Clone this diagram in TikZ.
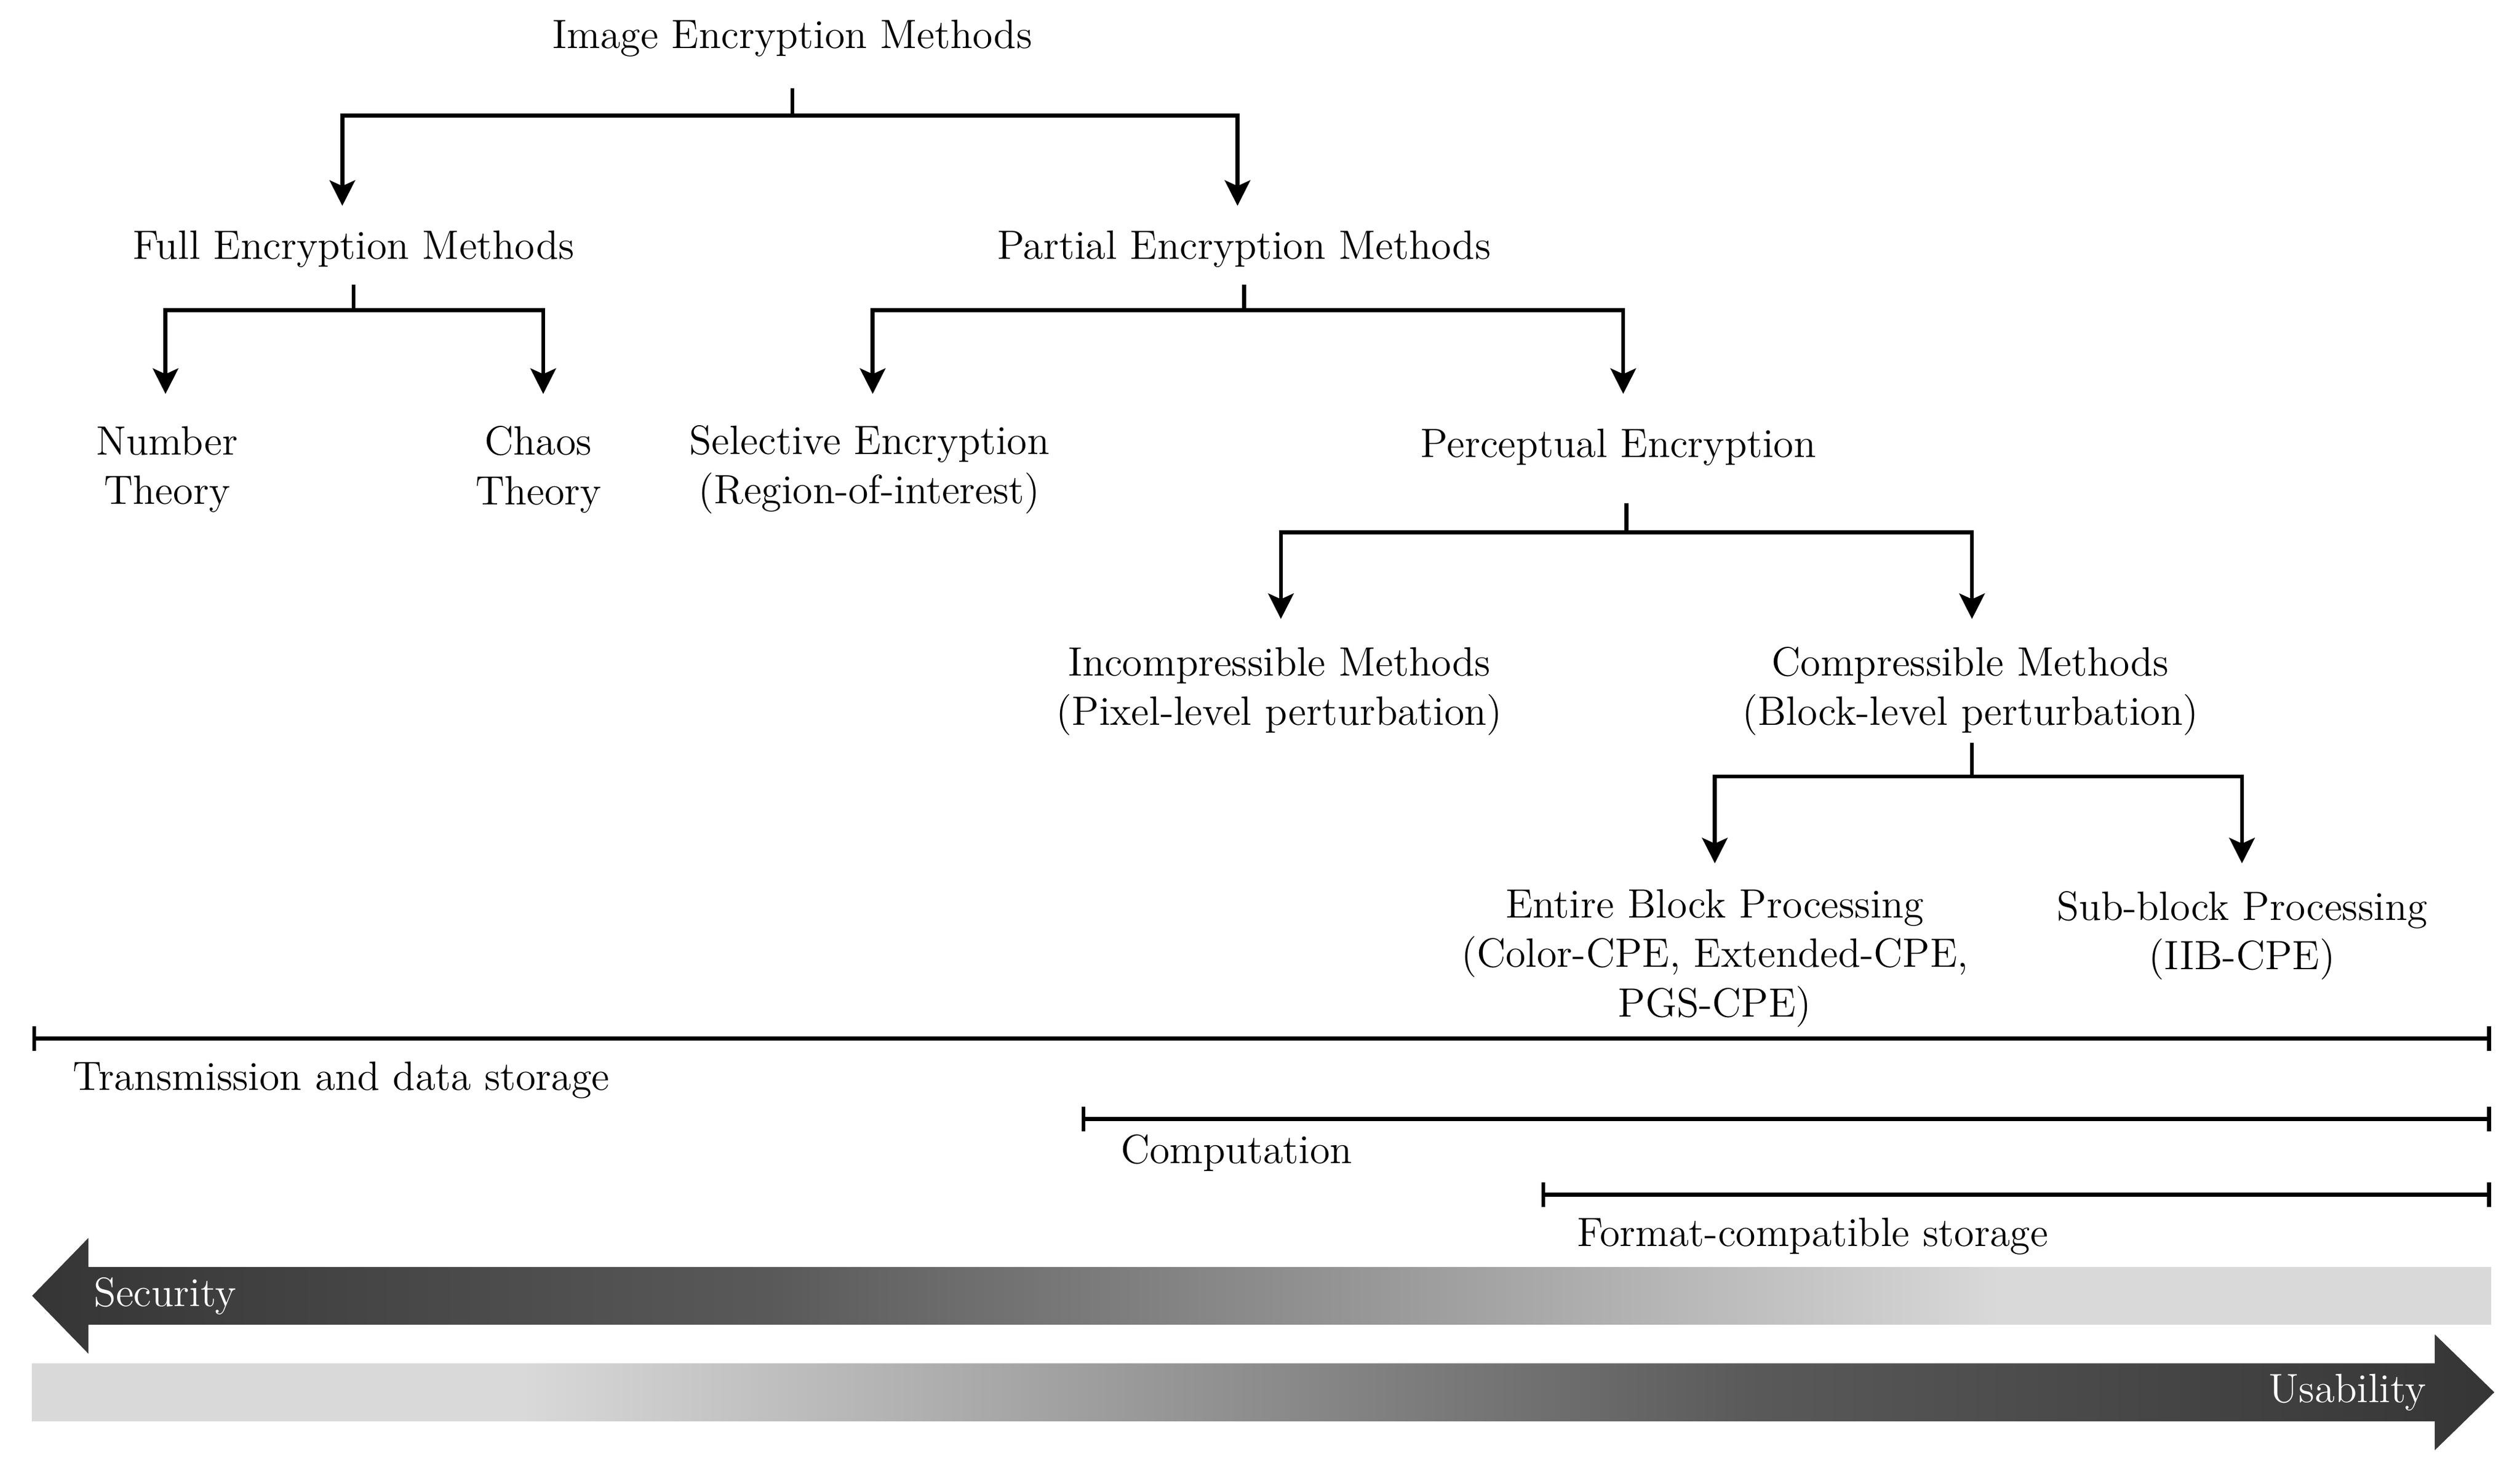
\documentclass[tikz,border=0pt]{standalone}
\usetikzlibrary{arrows.meta}
\definecolor{lg}{gray}{0.85}
\pgfdeclarehorizontalshading{secsh}{100bp}{color(0bp)=(black); color(3bp)=(black); color(40bp)=(gray!70!black); color(65bp)=(lg); color(100bp)=(lg)}
\pgfdeclarehorizontalshading{usesh}{100bp}{color(0bp)=(lg); color(35bp)=(lg); color(60bp)=(gray!70!black); color(97bp)=(black); color(100bp)=(black)}
\begin{document}
\begin{tikzpicture}[x=0.02cm,y=-0.02cm,
  lbl/.style={align=center,inner sep=0pt,font=\fontsize{14.5}{17.5}\selectfont},
  ln/.style={line width=1.4pt},
  arr/.style={ln,-{Stealth[length=9pt,width=9pt,inset=2pt]}},
  tk/.style={ln,|-|}]
\useasboundingbox (0,0) rectangle (1568,914);
\node[lbl] (root) at (493,24) {Image Encryption Methods};
\node[lbl] (full) at (220,155) {Full Encryption Methods};
\node[lbl] (part) at (774,155) {Partial Encryption Methods};
\node[lbl] (num) at (104,292) {Number\\Theory};
\node[lbl] (chaos) at (335,292) {Chaos\\Theory};
\node[lbl] (sel) at (541,292) {Selective Encryption\\(Region-of-interest)};
\node[lbl] (perc) at (1007,278) {Perceptual Encryption};
\node[lbl] (inc) at (796,430) {Incompressible Methods\\(Pixel-level perturbation)};
\node[lbl] (comp) at (1226,430) {Compressible Methods\\(Block-level perturbation)};
\node[lbl] (ent) at (1067,596) {Entire Block Processing\\(Color-CPE, Extended-CPE,\\PGS-CPE)};
\node[lbl] (sub) at (1395,582) {Sub-block Processing\\(IIB-CPE)};
% junctions
\coordinate (j0) at (493,72);
\coordinate (j1) at (220,193);
\coordinate (j2) at (774,193);
\coordinate (j3) at (1012,331);
\coordinate (j4) at (1227,483);
\coordinate (t0a) at (213,128); \coordinate (t0b) at (770,128);
\coordinate (t1a) at (103,245); \coordinate (t1b) at (338,245);
\coordinate (t2a) at (543,245); \coordinate (t2b) at (1010,245);
\coordinate (t3a) at (797,385); \coordinate (t3b) at (1227,385);
\coordinate (t4a) at (1067,537); \coordinate (t4b) at (1395,537);
\draw[ln] (493,55) -- (j0);
\draw[arr] (j0) -| (t0a); \draw[arr] (j0) -| (t0b);
\draw[ln] (220,177) -- (j1);
\draw[arr] (j1) -| (t1a); \draw[arr] (j1) -| (t1b);
\draw[ln] (774,177) -- (j2);
\draw[arr] (j2) -| (t2a); \draw[arr] (j2) -| (t2b);
\draw[ln] (1012,313) -- (j3);
\draw[arr] (j3) -| (t3a); \draw[arr] (j3) -| (t3b);
\draw[ln] (1227,462) -- (j4);
\draw[arr] (j4) -| (t4a); \draw[arr] (j4) -| (t4b);
% ranges
\draw[tk] (20,646) -- (1550,646);
\draw[tk] (673,696) -- (1550,696);
\draw[tk] (959,743) -- (1550,743);
\node[lbl,anchor=west] (tr) at (45,672) {Transmission and data storage};
\node[lbl,anchor=west] (cp) at (697,717) {Computation};
\node[lbl,anchor=west] (fc) at (981,769) {Format-compatible storage};
% bars
\shade[shading=secsh] (20,806) -- (55,770) -- (55,788) -- (1550,788) -- (1550,824) -- (55,824) -- (55,842) -- cycle;
\shade[shading=usesh] (20,848) -- (1515,848) -- (1515,830) -- (1552,866) -- (1515,902) -- (1515,884) -- (20,884) -- cycle;
\node[lbl,anchor=west,text=white] (sec) at (58,806) {Security};
\node[lbl,anchor=east,text=white] (us) at (1510,866) {Usability};
\end{tikzpicture}
\end{document}
